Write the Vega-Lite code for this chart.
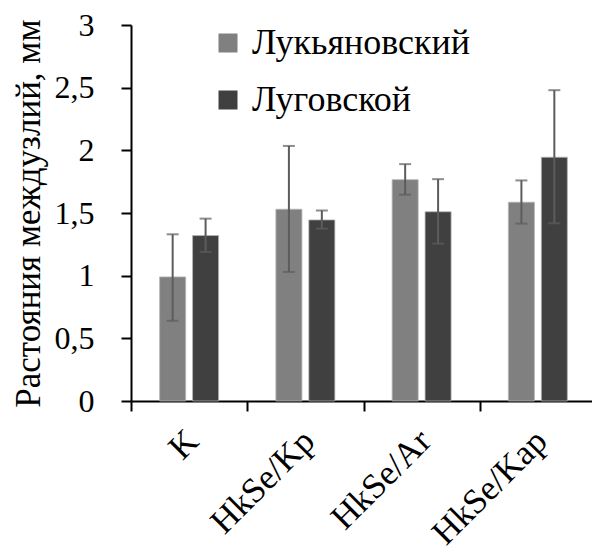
{
  "$schema": "https://vega.github.io/schema/vega-lite/v6.json",
  "autosize": "none",
  "padding": {"left": 131, "top": 25, "right": 0, "bottom": 153},
  "width": 461,
  "height": 376,
  "background": "white",
  "config": {
    "view": {"stroke": null},
    "axis": {"grid": false, "domainColor": "black", "domainWidth": 2, "tickColor": "black", "tickWidth": 2, "tickSize": 10, "labelColor": "black", "titleColor": "black"}
  },
  "data": {
    "values": [
      {"treatment": "K", "site": "Лукьяновский", "value": 0.99, "lo": 0.64, "hi": 1.33},
      {"treatment": "K", "site": "Луговской", "value": 1.32, "lo": 1.19, "hi": 1.455},
      {"treatment": "HkSe/Kp", "site": "Лукьяновский", "value": 1.53, "lo": 1.03, "hi": 2.035},
      {"treatment": "HkSe/Kp", "site": "Луговской", "value": 1.445, "lo": 1.375, "hi": 1.52},
      {"treatment": "HkSe/Ar", "site": "Лукьяновский", "value": 1.766, "lo": 1.646, "hi": 1.89},
      {"treatment": "HkSe/Ar", "site": "Луговской", "value": 1.51, "lo": 1.255, "hi": 1.77},
      {"treatment": "HkSe/Kap", "site": "Лукьяновский", "value": 1.586, "lo": 1.415, "hi": 1.76},
      {"treatment": "HkSe/Kap", "site": "Луговской", "value": 1.945, "lo": 1.418, "hi": 2.48}
    ]
  },
  "encoding": {
    "x": {
      "field": "treatment", "type": "nominal", "sort": null,
      "scale": {"paddingInner": 0, "paddingOuter": 0, "range": [0, 465]},
      "axis": {"title": null, "labelAngle": -45, "labelFont": "Liberation Serif", "labelFontSize": 35, "tickBand": "extent", "labelPadding": 12, "labelOffset": -9}
    },
    "xOffset": {
      "field": "site", "type": "nominal", "sort": ["Лукьяновский", "Луговской"],
      "scale": {"paddingInner": 0.21, "paddingOuter": 0.87}
    }
  },
  "layer": [
    {
      "mark": {"type": "bar", "stroke": "#b4b4b4", "strokeWidth": 0.8},
      "encoding": {
        "y": {
          "field": "value", "type": "quantitative",
          "scale": {"domain": [0, 3]},
          "axis": {
            "title": "Растояния междузлий, мм",
            "titleFont": "Liberation Serif", "titleFontSize": 35, "titleFontWeight": "normal", "titlePadding": 8,
            "values": [0, 0.5, 1, 1.5, 2, 2.5, 3],
            "labelExpr": "replace(format(datum.value, '~g'), '.', ',')",
            "labelFont": "Liberation Serif", "labelFontSize": 32, "labelPadding": 27
          }
        },
        "color": {
          "field": "site", "type": "nominal", "sort": ["Лукьяновский", "Луговской"],
          "scale": {"domain": ["Лукьяновский", "Луговской"], "range": ["#808080", "#404040"]},
          "legend": {
            "title": null, "orient": "none", "legendX": 79, "legendY": 0,
            "symbolType": "square", "symbolSize": 361, "symbolStrokeWidth": 0, "symbolOpacity": 1,
            "labelFont": "Liberation Serif", "labelFontSize": 36, "labelColor": "black",
            "labelOffset": 6, "rowPadding": 21, "padding": 0, "labelLimit": 400
          }
        }
      }
    },
    {
      "mark": {"type": "rule", "color": "#5c5c5c", "strokeWidth": 2},
      "encoding": {
        "y": {"field": "lo", "type": "quantitative"},
        "y2": {"field": "hi"}
      }
    },
    {
      "mark": {"type": "tick", "orient": "horizontal", "color": "#5c5c5c", "size": 12, "thickness": 2},
      "encoding": {"y": {"field": "lo", "type": "quantitative"}}
    },
    {
      "mark": {"type": "tick", "orient": "horizontal", "color": "#5c5c5c", "size": 12, "thickness": 2},
      "encoding": {"y": {"field": "hi", "type": "quantitative"}}
    }
  ]
}
